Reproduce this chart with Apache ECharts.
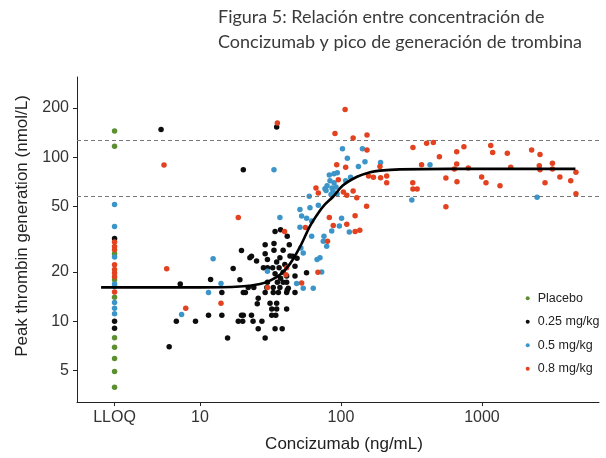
<!DOCTYPE html>
<html><head><meta charset="utf-8">
<script src="https://cdn.jsdelivr.net/npm/echarts@6/dist/echarts.min.js"></script>
<style>html,body{margin:0;padding:0;background:#fff}#c{width:606px;height:458px}</style>
</head><body><div id="c"></div>
<script>
// ---- data ----
const titleText = 'Figura 5: Relación entre concentración de\nConcizumab y pico de generación de trombina';
const xName = 'Concizumab (ng/mL)';
const yName = 'Peak thrombin generation (nmol/L)';
const seriesNames = ['Placebo', '0.25 mg/kg', '0.5 mg/kg', '0.8 mg/kg'];
const seriesColors = ['#5b8f32', '#0d0d0d', '#3b95c8', '#e2421f'];
const LLOQ_X = 2.48;
const xTickValues = [LLOQ_X, 10, 100, 1000];
const xTickLabels = ['LLOQ', '10', '100', '1000'];
const yTickValues = [5, 10, 20, 50, 100, 200];
const refLines = [127, 58];

const lloqPlacebo = [145, 117, 25.8, 17.9, 14.0, 7.93, 6.95, 5.93, 4.95, 3.96];
const lloq025 = [32, 10.0, 9.06];
const lloq05 = [51.6, 37.8, 24.7, 16.9, 16.3, 13.0, 12.0, 11.1];
const lloq08 = [30.5, 28.6, 27.3, 22.1, 20.7, 19.7, 18.7, 15.1];

const dose025 = [[5.3,148],[35,153],[20.3,84],[7.25,16.9],[6.8,10],[9.3,10],[6.05,7.0],[11.9,18],[17.2,21],[19.2,17.9],[14.3,15],[11.5,10.9],[14.3,10.9],[20.3,15],[21,15],[22,16.1],[24.1,16.1],[19.7,10.9],[20.3,10.9],[18.7,10],[20.1,10],[23.2,10.9],[23.8,10],[27.5,10],[25.9,9.0],[15.7,7.9],[29,7.9],[34.1,9.0],[38.3,9.0],[25.9,13.8],[25.5,12.8],[31.4,12.9],[35,12.9],[32.3,11.9],[35,11.9],[41.2,11.9],[32.3,10.9],[34.5,10.9],[29,15],[33.1,15],[36,15],[41.2,15],[47.2,15],[29.8,16.1],[33.1,16.1],[36.9,16.1],[42.3,15.9],[30.1,17.3],[35.4,17.3],[41.2,17.3],[41.2,18.9],[47.2,18.9],[37.3,18.3],[38.9,19.9],[34.1,19.5],[57,19.8],[28.2,21.2],[30.1,21.2],[32.8,21.2],[36.4,21.2],[23.2,24.9],[25.2,23.3],[30.1,23.8],[35,23.0],[36.9,24.4],[40,22.2],[43.5,25.0],[22.6,24.4],[29,25.8],[33.5,27.1],[38.9,27.1],[45.5,24.9],[19.7,27],[29,29.3],[33.5,29.8],[43,29.3],[34.1,35.3],[37.3,36.2],[41.6,33],[48.8,24.2],[47.2,21.7],[38.9,17.3],[41.6,15.5]];

const dose05 = [[7.41,11.0],[12.4,24.1],[11.5,15],[14.1,17],[33.5,84],[30.1,20.2],[48.5,17],[54,15.9],[63.6,15.9],[73,20],[67.7,23.8],[102.5,113],[111,98.6],[142,113],[148,94],[133,88],[191,93],[82.7,78],[89.3,79.5],[94.2,80.5],[117,75.5],[108,72],[83.6,72],[89.3,70],[79.7,67],[86.4,65],[92.2,66],[78.4,62.7],[87.8,61.8],[93.8,60],[85,59.3],[77,64.4],[59.6,58],[69.1,51],[60.3,49.3],[51.2,48.1],[57.1,42.5],[62,40.9],[36.9,43],[51.2,37.4],[101,42.5],[86,35.6],[114.6,35],[75.8,33],[52,28],[54,26.1],[74.9,30.8],[71,24.4],[52.6,43.8],[62,33],[97.4,38.1],[79.2,28.7],[428,90],[318,55],[2460,57]];

const dose08 = [[5.56,89.9],[5.81,20.9],[7.93,12.0],[14.1,12.9],[18.7,43],[30.1,16.1],[41.2,21.2],[40.7,19.2],[52.6,17.1],[68.7,19.9],[35.4,162],[107,196],[90.7,140],[122,131],[153,137],[153,111],[93.3,90],[108,87],[95.8,73],[211,77],[191,75],[211,70],[170,75.5],[157,77],[189,88],[66.5,65],[69.1,60.6],[104,61.5],[122,62.3],[110,58.7],[129.5,56.7],[152,50.4],[82.7,43],[126,44.1],[88.2,38.4],[110,39.1],[126,35.3],[136,35.9],[80.3,30.8],[56,37.3],[39.8,35.3],[324,115],[405,122],[452,123],[499,101],[373,90],[323,70],[324,64],[347,64],[555,74.8],[555,50],[662,108],[745,116],[662,91],[637,85],[665,71],[800,86],[995,76],[1068,70],[1154,118],[1191,107],[1342,67],[1513,106],[1600,87],[2250,111],[2580,104],[2550,89],[2580,84],[2800,70],[3160,92],[3160,85],[3570,76],[4260,72],[4640,81],[4640,60]];

const fitCurve = [[1.99,16.1],[10,16.1],[19.2,16.3],[26.7,16.9],[31.4,17.7],[36.9,19.2],[43.5,22.4],[51.2,28.4],[60.3,38.1],[68.7,45.5],[77,51.6],[88.2,57.7],[103,67.3],[130,76.1],[161,81.2],[189,83],[262,84.4],[593,85],[4600,85]];

// ---- chart ----
const lloqPts = arr => arr.map(v => [LLOQ_X, v]);
const groups = [lloqPts(lloqPlacebo), lloqPts(lloq025).concat(dose025), lloqPts(lloq05).concat(dose05), lloqPts(lloq08).concat(dose08)];
const font = 'Liberation Sans, Arial, sans-serif';

const chart = echarts.init(document.getElementById('c'), null, {renderer: 'canvas'});
const series = groups.map((d, i) => ({
  name: seriesNames[i], type: 'scatter', data: d, symbol: 'circle', symbolSize: 5.5,
  itemStyle: {color: seriesColors[i], opacity: 1}, z: 2 + i
}));
series.push({
  name: 'fit', type: 'line', data: fitCurve, smooth: 0.35, showSymbol: false, symbol: 'none',
  lineStyle: {color: '#000', width: 2.6}, z: 10,
  markLine: {silent: true, symbol: ['none', 'none'], label: {show: false},
    lineStyle: {color: '#777', width: 1, type: [4, 3]},
    data: refLines.map(v => ({yAxis: v}))}
});

chart.setOption({
  animation: false,
  backgroundColor: '#fff',
  title: {text: titleText, left: 218, top: 5, padding: 0,
    textStyle: {fontFamily: 'Lato', fontSize: 18, fontWeight: 'normal', color: '#3a3a3a', lineHeight: 25}},
  grid: {left: 77, right: 7, top: 77, bottom: 52},
  legend: {data: seriesNames, orient: 'vertical', left: 525.7, top: 291.75, padding: 0,
    itemWidth: 4, itemHeight: 4, itemGap: 10.5, icon: 'circle',
    textStyle: {fontFamily: font, fontSize: 12.5, color: '#222', padding: [0, 0, 0, 3]}},
  xAxis: {type: 'log', logBase: 10, min: 1.343, max: 6761,
    axisLine: {lineStyle: {color: '#222', width: 1}},
    axisTick: {customValues: xTickValues, length: 4, lineStyle: {color: '#222'}},
    axisLabel: {customValues: xTickValues, margin: 8, fontSize: 16, color: '#333', fontFamily: font,
      formatter: v => { let best = 0; xTickValues.forEach((t, k) => { if (Math.abs(Math.log10(t) - Math.log10(v)) < Math.abs(Math.log10(xTickValues[best]) - Math.log10(v))) best = k; }); return xTickLabels[best]; }},
    splitLine: {show: false},
    name: xName, nameLocation: 'middle', nameGap: 34,
    nameTextStyle: {fontSize: 17, color: '#222', fontFamily: font, padding: [0, 0, 0, 12]}},
  yAxis: {type: 'log', logBase: 10, min: 3.22, max: 309,
    axisLine: {show: true, lineStyle: {color: '#222', width: 1}},
    axisTick: {show: true, customValues: yTickValues, length: 4, lineStyle: {color: '#222'}},
    axisLabel: {customValues: yTickValues, margin: 8, fontSize: 16, color: '#333', fontFamily: font,
      formatter: v => String(Math.round(v))},
    splitLine: {show: false},
    name: yName, nameLocation: 'middle', nameGap: 46, nameRotate: 90,
    nameTextStyle: {fontSize: 17, color: '#222', fontFamily: font, padding: [0, 0, 0, 27]}},
  series: series
});
</script></body></html>
